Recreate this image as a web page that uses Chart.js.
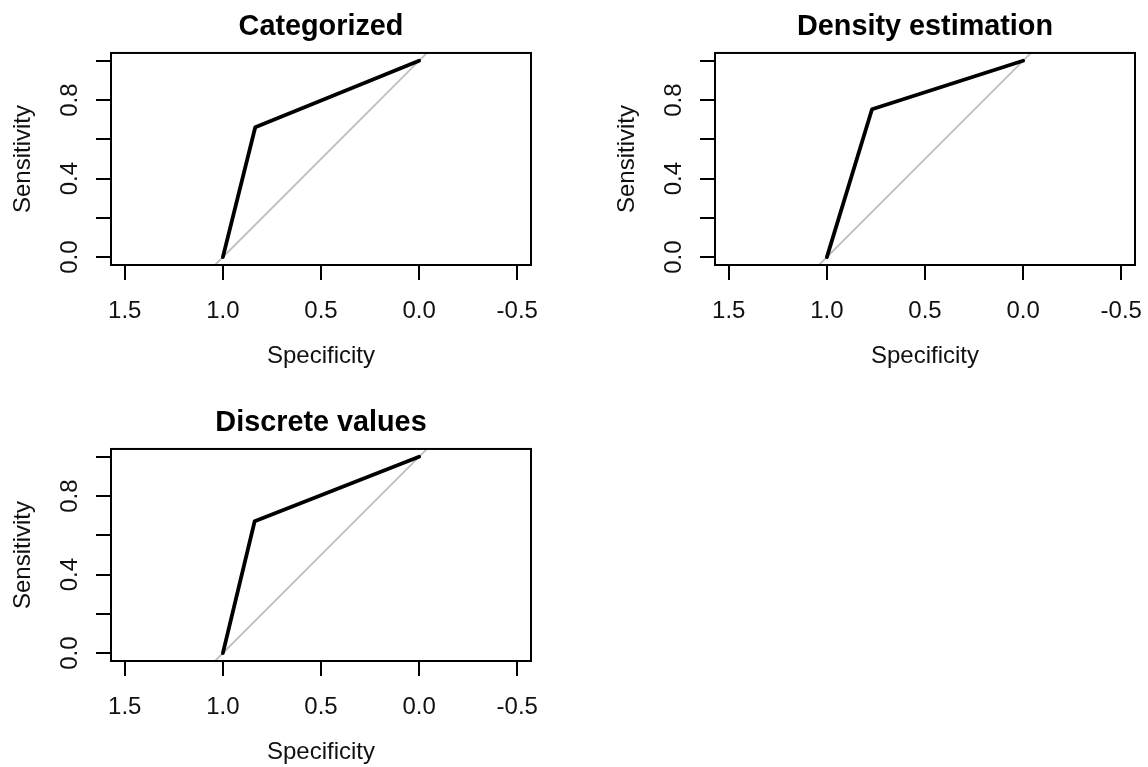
<!DOCTYPE html>
<html>
<head>
<meta charset="utf-8">
<script src="https://cdn.jsdelivr.net/npm/chart.js@4.4.1/dist/chart.umd.min.js"></script>
<style>
  html, body { margin: 0; padding: 0; background: #fff; }
  #wrap { position: relative; width: 1148px; height: 767px; overflow: hidden; background: #fff; }
  canvas { position: absolute; }
</style>
</head>
<body>
<div id="wrap">
  <canvas id="c1" width="574" height="371" style="left:0px;top:0px"></canvas>
  <canvas id="c2" width="574" height="371" style="left:604px;top:0px"></canvas>
  <canvas id="c3" width="574" height="371" style="left:0px;top:396px"></canvas>
</div>
<script>
// ---- data ----
const panelTitles = ['Categorized', 'Density estimation', 'Discrete values'];

const specCategorized = [1.0, 0.835, 0.0];
const sensCategorized = [0.0, 0.662, 1.0];

const specDensity = [1.0, 0.770, 0.0];
const sensDensity = [0.0, 0.753, 1.0];

const specDiscrete = [1.0, 0.838, 0.0];
const sensDiscrete = [0.0, 0.672, 1.0];

// chance diagonal (sensitivity = 1 - specificity), spanning the plot region
const diagSpec = [1.04, -0.04];
const diagSens = [-0.04, 1.04];

const xTickValues = [1.5, 1.0, 0.5, 0.0, -0.5];
const xTickLabels = ['1.5', '1.0', '0.5', '0.0', '-0.5'];
const yTickValues = [0.0, 0.2, 0.4, 0.6, 0.8, 1.0];
const yTickLabels = ['0.0', '', '0.4', '', '0.8', ''];

const xAxisTitle = 'Specificity';
const yAxisTitle = 'Sensitivity';

// ---- rendering ----
const FONT = "'Liberation Sans', Arial, Helvetica, sans-serif";
Chart.defaults.font.family = FONT;
Chart.defaults.font.size = 24;
Chart.defaults.color = '#111';

function pts(xs, ys) { return xs.map((x, i) => ({ x: x, y: ys[i] })); }

const boxPlugin = {
  id: 'rbox',
  afterDatasetsDraw(chart) {
    const { ctx, chartArea: a } = chart;
    ctx.save();
    ctx.strokeStyle = '#000';
    ctx.lineWidth = 2;
    ctx.strokeRect(a.left, a.top, a.right - a.left, a.bottom - a.top);
    ctx.restore();
  }
};

function makePanel(id, title, spec, sens) {
  new Chart(document.getElementById(id), {
    type: 'scatter',
    data: {
      datasets: [
        {
          data: pts(spec, sens),
          showLine: true,
          borderColor: '#000',
          borderWidth: 3.8,
          borderJoinStyle: 'round',
          borderCapStyle: 'round',
          pointRadius: 0,
          pointHoverRadius: 0,
          tension: 0
        },
        {
          data: pts(diagSpec, diagSens),
          showLine: true,
          borderColor: '#bebebe',
          borderWidth: 1.8,
          pointRadius: 0,
          pointHoverRadius: 0,
          clip: 0,
          tension: 0
        }
      ]
    },
    options: {
      responsive: false,
      animation: false,
      devicePixelRatio: 1,
      events: [],
      layout: { padding: { left: 0, top: 0, right: 43, bottom: 0 } },
      plugins: {
        legend: { display: false },
        tooltip: { enabled: false },
        title: {
          display: true,
          text: title,
          fullSize: false,
          color: '#000',
          font: { size: 28.8, weight: 'bold', family: FONT },
          padding: { top: 9.4, bottom: 9.0 }
        }
      },
      scales: {
        x: {
          type: 'linear',
          position: 'bottom',
          reverse: true,
          min: -0.57,
          max: 1.57,
          afterBuildTicks: (s) => { s.ticks = xTickValues.map(v => ({ value: v })); },
          afterFit: (s) => { s.height = 106; },
          ticks: {
            autoSkip: false,
            minRotation: 0,
            maxRotation: 0,
            padding: 17.1,
            callback: (v, i) => xTickLabels[i]
          },
          grid: {
            display: true,
            drawOnChartArea: false,
            drawTicks: true,
            tickLength: 15,
            tickColor: '#000',
            tickWidth: 2,
            color: '#000',
            lineWidth: 2
          },
          border: { display: false },
          title: {
            display: true,
            text: xAxisTitle,
            color: '#111',
            padding: { top: 0, bottom: 0.6 }
          }
        },
        y: {
          type: 'linear',
          position: 'left',
          min: -0.04,
          max: 1.04,
          afterBuildTicks: (s) => { s.ticks = yTickValues.map(v => ({ value: v })); },
          afterFit: (s) => { s.width = 111; },
          ticks: {
            autoSkip: false,
            minRotation: 90,
            maxRotation: 90,
            crossAlign: 'center',
            padding: 9,
            callback: (v, i) => yTickLabels[i]
          },
          grid: {
            display: true,
            drawOnChartArea: false,
            drawTicks: true,
            tickLength: 15,
            tickColor: '#000',
            tickWidth: 2,
            color: '#000',
            lineWidth: 2
          },
          border: { display: false },
          title: {
            display: true,
            text: yAxisTitle,
            color: '#111',
            padding: { top: 8.6, bottom: 0 }
          }
        }
      }
    },
    plugins: [boxPlugin]
  });
}

makePanel('c1', panelTitles[0], specCategorized, sensCategorized);
makePanel('c2', panelTitles[1], specDensity, sensDensity);
makePanel('c3', panelTitles[2], specDiscrete, sensDiscrete);
</script>
</body>
</html>
